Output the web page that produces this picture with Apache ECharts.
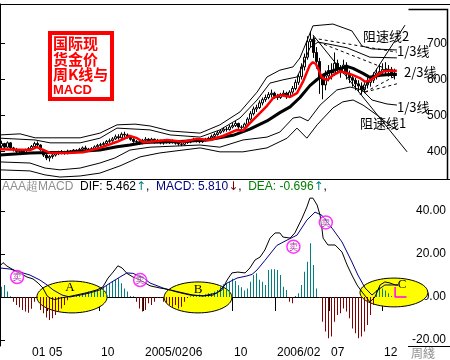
<!DOCTYPE html>
<html><head><meta charset="utf-8">
<script src="https://cdn.jsdelivr.net/npm/echarts@6/dist/echarts.min.js"></script>
<style>html,body{margin:0;padding:0;background:#fff}#c{width:450px;height:360px}</style>
</head><body><div id="c"></div>
<script>
// ---- weekly candles [open, close, low, high], one per week slot ----
const candles = [
[415,422,405,430],[422,412,408,424],[412,424,410,428],[424,410,406,426],[410,405,400,413],[405,400,396,410],[400,402,395,406],[402,396,393,405],[396,405,394,408],[405,408,402,412],
[408,414,405,418],[414,422,412,427],[422,418,413,428],[418,405,402,420],[405,390,385,407],[390,382,376,393],[382,386,372,390],[386,390,380,395],[390,394,386,398],[394,397,390,402],
[397,399,392,404],[399,395,391,402],[395,401,392,405],[401,397,394,404],[397,404,395,407],[404,399,396,406],[399,406,397,410],[406,410,404,414],[410,407,403,416],[407,404,400,410],
[404,408,400,412],[408,413,405,417],[413,417,410,421],[417,419,413,424],[419,422,416,427],[422,428,419,432],[428,430,424,436],[430,435,427,440],[435,441,432,447],[441,438,433,448],
[438,448,436,453],[448,446,440,455],[446,442,436,450],[442,434,430,445],[434,428,424,437],[428,427,420,432],[427,423,418,430],[423,431,420,435],[431,434,427,440],[434,428,424,437],
[428,434,425,438],[434,426,422,436],[426,431,423,435],[431,424,420,433],[424,425,419,429],[425,430,422,434],[430,425,421,432],[425,429,422,433],[429,423,419,431],[423,421,416,427],
[421,420,415,425],[420,425,417,428],[425,426,421,430],[426,429,423,434],[429,434,426,438],[434,429,425,437],[429,427,423,432],[427,432,424,436],[432,433,428,438],[433,437,430,441],
[437,442,434,447],[442,447,438,452],[447,452,444,457],[452,457,449,462],[457,462,453,467],[462,461,455,468],[461,468,458,474],[468,472,464,479],[472,478,468,485],[478,468,463,480],
[468,467,460,473],[467,476,464,480],[476,490,473,495],[490,505,486,512],[505,518,500,525],[518,522,510,530],[522,535,518,542],[535,544,528,550],[544,550,538,558],[550,558,545,565],
[558,562,550,572],[562,553,546,566],[553,550,543,560],[550,558,546,563],[558,562,552,570],[562,552,546,566],[552,565,548,570],[565,575,560,582],[575,592,570,600],[592,608,585,615],
[608,635,600,645],[635,662,625,672],[662,705,655,720],[705,712,690,733],[712,675,660,720],[675,650,630,690],[650,605,560,660],[605,585,545,615],[585,610,570,625],[610,625,595,640],
[625,618,600,645],[618,645,610,675],[645,628,615,655],[628,622,605,640],[622,640,615,655],[640,615,600,648],[615,605,590,625],[605,598,580,615],[598,588,570,605],[588,582,565,598],
[582,572,558,592],[572,585,562,595],[585,592,575,605],[592,598,580,610],[598,610,590,620],[610,618,600,630],[618,622,608,640],[622,628,610,645],[628,625,612,648],[625,628,608,640],
[628,618,605,635],[618,612,600,630]
];
// ---- price overlays [week slot, price] ----
const maRed = [[0,406],[10,404],[12.3,412],[16.7,396],[22.3,396],[27.7,398],[33.3,410],[39,427],[43.3,443],[45.7,437],[47.7,426],[50,427],[55.7,432],[61,427],[65.7,435],[70,432],[74.3,443],[79,460],[81,458],[83.3,479],[86.7,507],[89,527],[91,548],[93.3,557],[96.7,552],[99,562],[101,594],[103.3,640],[104.3,648],[105.3,643],[106.3,625],[107.3,605],[109,598],[111,612],[113.3,622],[115.7,618],[117.7,612],[120,604],[121.7,594],[123.3,597],[125.7,612],[127.7,622],[130,624],[132.3,624]];
const maBlack = [[0,390],[10,396],[16.7,397],[22.3,398],[33.3,404],[39,413],[43.3,418],[47.7,424],[50,426],[60,428],[69,432],[77.7,445],[83.3,462],[89,485],[93.3,508],[96.7,524],[100,550],[103.3,583],[105.7,600],[107.7,612],[110,622],[112.3,628],[115.7,636],[117.7,631],[121,617],[123.3,606],[126.7,612],[130,614],[132.3,614]];
const bandUpper2 = [[0,446],[6.7,449],[11.7,438],[26.7,438],[33.3,451],[39,474],[45,476],[50,471],[56.7,457],[66.7,451],[73.3,474],[80,510],[85.7,565],[89,607],[93.3,626],[97.7,635],[100,660],[102.3,707],[104.3,749],[111,754],[117.3,735],[120.7,693],[124,685],[132.3,682]];
const bandUpper1 = [[0,437],[11.7,432],[16.7,424],[26.7,424],[33.3,437],[39,465],[50,460],[56.7,446],[66.7,440],[73.3,460],[80,493],[85.7,543],[90,590],[94.3,599],[99,607],[101,640],[103.3,688],[106,704],[111,696],[115.7,688],[123.3,662],[132.3,660]];
const bandLower1 = [[0,371],[10,368],[15,354],[20,349],[26.7,354],[33.3,368],[38.3,382],[43.3,404],[50,412],[66.7,418],[73.3,412],[81,432],[89,440],[93.3,454],[97.7,493],[100,496],[102.7,485],[106.7,529],[112.3,571],[116.7,579],[120.7,571],[124,543],[129,532],[132.3,529]];
const bandLower2 = [[0,349],[10,346],[15,335],[20,329],[26.7,332],[33.3,340],[40,360],[46.7,385],[53.3,396],[66.7,410],[73.3,399],[81,399],[89,410],[95.7,437],[99,465],[102.3,437],[105.7,474],[111,521],[114.3,538],[117.7,543],[121,529],[125.7,501],[129,479],[132.3,460]];
// speed-resistance lines
const speedLine1 = [[104.3,724],[135.7,399]];
const speedLine2 = [[120,557],[135,751]];
const thirdLines = [
  [[104.3,715],[132.3,676]],
  [[104.3,710],[132.3,618]],
  [[121.7,565],[132.3,612]],
  [[121.7,565],[132.3,588]]
];
// ---- MACD panel ----
const macdHist = [4.8,5.6,2.5,0.3,
 -2.2,-3.7,-4.8,-6.0,-6.8,-7.3,-5.5,-2.2,-0.3,
 -6.0,-7.6,-9.5,-10.7,-9.9,-8.4,-6.8,-5.3,-3.7,-1.5,
 0.3,0.5,0.6,
 0.9,1.7,2.0,2.5,2.8,3.3,3.7,4.0,4.8,5.6,6.4,7.1,7.9,8.7,6.4,4.0,2.5,0.5,0.3,
 -2.2,-5.3,-6.8,-6.0,-2.9,-3.7,-2.2,-0.3,-0.5,-2.2,-2.9,-3.7,-4.5,-3.7,-5.3,-4.5,-2.2,-0.5,0.3,
 0.5,0.9,1.2,0.9,1.3,1.7,1.7,2.5,3.3,4.8,5.9,6.5,
 7.0,8.5,7.5,5.5,4.5,3.0,4.0,7.1,10.2,11.0,8.0,7.1,5.6,12.6,12.9,12.9,12.6,10.2,4.8,3.3,
 -2.2,-2.9,0.5,1.7,5.6,11.8,16.4,25,14.9,4.0,-0.5,
 -11.5,-16.1,-19.2,-18.4,-11.5,-8.4,-7.6,-5.3,-6.8,-9.9,-14.6,-16.9,-19.2,-18.4,-16.1,-13,-8.4,-3.7,
 3.3,4.8,4.0,3.0,1.7,0.5];
const dif = [[0,14.4],[1,16],[2.3,14.4],[4,13],[6.7,11],[9,9.3],[11,8.4],[12.7,6.5],[14.3,4.2],[15.7,0.5],[16.7,-0.5],[18.3,-1.2],[20,-0.5],[22.3,0],[25.7,1],[29,2],[32.3,3.3],[34.3,4.7],[36,8.8],[37.7,11.6],[39.3,14.5],[40.7,13.5],[42.3,11],[44.3,9.3],[46.7,7.9],[50,5.2],[53.3,4.2],[56.7,3.3],[61,1.9],[64.3,0.9],[67.7,0.5],[71,0.9],[74,3.3],[75.7,7.9],[77.3,11.2],[79.3,11.6],[81.7,11.2],[83.3,13.5],[85,17.2],[86.7,18.6],[88.3,21.9],[90,27.4],[91.7,29.8],[93.3,29.8],[94.3,27.9],[96.7,27.4],[98.3,29.8],[100.7,36.7],[102.3,41.9],[103.3,46],[104.3,46],[105.7,42.8],[106.7,38],[107.3,32],[107.7,27.4],[109.3,24.2],[111.7,24.2],[114,20.9],[115.7,14.9],[117.3,10.2],[119,5.6],[120.7,2.3],[122.3,-0.5],[123.3,-2.3],[125,0],[126.7,5.6],[128.3,7],[130,6.5],[131.7,5.6],[132.7,5.6]];
const dea = [[0,13.5],[3.3,13],[6.7,11.6],[10,10.2],[13.3,7.9],[15.7,5.6],[17.7,3.3],[20.7,0.9],[23.3,0],[26.7,0.9],[30,1.9],[33.3,3.3],[36.7,6.5],[40,9.3],[42.3,11.2],[44.3,11],[47.7,9],[50,6.5],[54.3,4.2],[59,2.3],[63.3,0.9],[67.7,0.5],[72.3,1.9],[75.7,6.5],[79,8.8],[82.3,9.8],[84,10.5],[85.7,12.6],[88.3,17],[90,20],[92.3,24],[95.7,26.5],[99,28.8],[102.3,35.8],[105,39.5],[107.3,38],[110.7,32],[114,25.6],[117.3,16.3],[119.3,10.2],[121.7,4.2],[124,0.9],[126,3.3],[128.3,5.6],[130.7,5.6],[132.7,5.6]];
const sellMarks = [[5.7,9.3],[46.7,7.9],[97.8,23.4],[108.6,34.7]];
const cBracket = [[131.7,4.6],[131.7,0],[135.5,0]];
// zones: [centre week, centre value, half-width weeks, half-height value]
const zoneNames = ['A','B','C'];
const zones = [[24,0,11.7,7.4],[66,-0.2,11.3,7.2],[131.3,2.1,11.3,6.7]];
const zoneLabelAt = [[23.3,4.2],[66,3.3],[134,6]];
// ---- axes ----
const tickPos = [15.67,33,47.67,62.33,77.33,91.67,109.67,127.33];
const tickText = ['05','10','2005/02','06','10','2006/02','07','12'];
const priceTicks = [400,500,600,700];
const macdTicks = [-20,0,20,40];

const chart = echarts.init(document.getElementById('c'));
const lineBase = {type:'line', showSymbol:false, symbol:'none', animation:false};
const thin = (data, extra) => Object.assign({}, lineBase, {xAxisIndex:0, yAxisIndex:0, data, lineStyle:{color:'#000', width:1}}, extra||{});
const series = [
  thin(bandUpper2), thin(bandUpper1), thin(bandLower1), thin(bandLower2),
  thin(speedLine1), thin(speedLine2),
  ...thirdLines.map(d => thin(d, {lineStyle:{color:'#000', width:1, type:[3,3]}})),
  {type:'candlestick', xAxisIndex:0, yAxisIndex:0, barWidth:2, animation:false,
   data: candles.map((c,i)=>[i+0.5].concat(c)), encode:{x:0, y:[1,2,3,4]},
   itemStyle:{color:'#ffffff', color0:'#000000', borderColor:'#000', borderColor0:'#000', borderWidth:1}},
  Object.assign({}, lineBase, {xAxisIndex:0, yAxisIndex:0, data:maBlack, lineStyle:{color:'#000', width:3}}),
  Object.assign({}, lineBase, {xAxisIndex:0, yAxisIndex:0, data:maRed, lineStyle:{color:'#ff0000', width:2.5}}),
  {type:'custom', xAxisIndex:1, yAxisIndex:1, z:1, clip:false, animation:false,
   data: zones.map((z,i)=>z.concat(zoneLabelAt[i])),
   renderItem:(params, api)=>{
     const c = api.coord([api.value(0), api.value(1)]);
     const s = api.size([api.value(2), api.value(3)]);
     const t = api.coord([api.value(4), api.value(5)]);
     return {type:'group', children:[
       {type:'ellipse', shape:{cx:c[0], cy:c[1], rx:s[0], ry:s[1]}, style:{fill:'#ffff00', stroke:'#000', lineWidth:1}},
       {type:'text', z2:50, style:{text:zoneNames[params.dataIndex], x:t[0], y:t[1], textAlign:'center', textVerticalAlign:'middle', fill:'#000', font:'13px "Liberation Serif"'}}
     ]};
   }},
  {type:'bar', xAxisIndex:1, yAxisIndex:1, barWidth:1, z:3, animation:false,
   data: macdHist.map((v,i)=>[i+0.5, v]),
   itemStyle:{color:(p)=> p.value[1] >= 0 ? '#008080' : '#800000'}},
  Object.assign({}, lineBase, {xAxisIndex:1, yAxisIndex:1, z:4, data:dea, lineStyle:{color:'#000080', width:1}}),
  Object.assign({}, lineBase, {xAxisIndex:1, yAxisIndex:1, z:5, data:dif, lineStyle:{color:'#000', width:1}}),
  Object.assign({}, lineBase, {xAxisIndex:1, yAxisIndex:1, z:6, data:cBracket, lineStyle:{color:'#ff00ff', width:1.5}}),
  {type:'scatter', xAxisIndex:1, yAxisIndex:1, z:7, animation:false, data:sellMarks, symbol:'circle', symbolSize:13,
   itemStyle:{color:'rgba(255,255,255,0.6)', borderColor:'#ff00ff', borderWidth:1.5},
   label:{show:true, position:'inside', formatter:'卖', color:'#990099', fontSize:9, fontFamily:'Noto Sans CJK SC'}}
];

const option = {
  animation:false,
  backgroundColor:'#fff',
  grid:[{left:0, width:408, top:4, height:175}, {left:0, width:408, top:179, height:167}],
  xAxis:[
    {type:'value', gridIndex:0, min:0, max:136, show:false},
    {type:'value', gridIndex:1, min:0, max:136, splitLine:{show:false},
     axisLine:{show:true, lineStyle:{color:'#000', width:1}},
     axisTick:{show:true, customValues:tickPos, length:14, lineStyle:{color:'#000'}},
     axisLabel:{show:true, customValues:tickPos, align:'left', margin:1, padding:[0,0,0,2],
       color:'#000', fontSize:12, fontFamily:'Liberation Sans',
       formatter:(v)=>{ const k = tickPos.findIndex(t=>Math.abs(t-v)<0.01); return k>=0 ? tickText[k] : ''; }}}
  ],
  yAxis:[
    {type:'value', gridIndex:0, position:'right', min:323.6, max:809.7, splitLine:{show:false},
     axisLine:{show:true, lineStyle:{color:'#000'}},
     axisTick:{show:true, customValues:priceTicks, length:5, lineStyle:{color:'#000'}},
     axisLabel:{customValues:priceTicks, align:'left', margin:19, color:'#000', fontSize:12, fontFamily:'Liberation Sans'}},
    {type:'value', gridIndex:1, position:'right', min:-22.8, max:54.9, splitLine:{show:false},
     axisLine:{show:true, lineStyle:{color:'#000'}},
     axisTick:{show:true, customValues:macdTicks, length:5, lineStyle:{color:'#000'}},
     axisLabel:{customValues:macdTicks, align:'right', margin:38, color:'#000', fontSize:12, fontFamily:'Liberation Sans',
       formatter:(v)=>v.toFixed(2)}}
  ],
  series,
  graphic:[
    {type:'line', shape:{x1:0,y1:4.5,x2:450,y2:4.5}, style:{stroke:'#000', lineWidth:1}, z:100},
    {type:'line', shape:{x1:0,y1:179.5,x2:450,y2:179.5}, style:{stroke:'#000', lineWidth:1}, z:100},
    {type:'line', shape:{x1:408,y1:346.5,x2:450,y2:346.5}, style:{stroke:'#000', lineWidth:1}, z:100},
    {type:'polyline', shape:{points:[[408.5,9.5],[447.5,9.5],[447.5,180]]}, style:{stroke:'#000', lineWidth:1.5, fill:null}, z:100},
    {type:'rect', shape:{x:50,y:33,width:62,height:66}, style:{fill:'#fff', stroke:'#ff0000', lineWidth:4}, z:100},
    {type:'text', x:53, y:36, z:101, style:{text:'国际现\n货金价\n周K线与\n{m|MACD}', fill:'#ff0000',
      font:'bold 15px "Noto Sans CJK SC"', lineHeight:15.5,
      rich:{m:{fill:'#ff0000', font:'bold 13px "Liberation Sans"', lineHeight:15.5}}}},
    {type:'text', x:363, y:30, z:101, style:{text:'阻速线2', fill:'#000', font:'13px "Noto Sans CJK SC"'}},
    {type:'text', x:397, y:45, z:101, style:{text:'1/3线', fill:'#000', font:'13px "Noto Sans CJK SC"'}},
    {type:'text', x:404, y:66, z:101, style:{text:'2/3线', fill:'#000', font:'13px "Noto Sans CJK SC"'}},
    {type:'text', x:397, y:101, z:101, style:{text:'1/3线', fill:'#000', font:'13px "Noto Sans CJK SC"'}},
    {type:'text', x:360, y:117, z:101, style:{text:'阻速线1', fill:'#000', font:'13px "Noto Sans CJK SC"'}},
    {type:'text', x:2, y:181, z:101, style:{
      text:'{g|AAA超MACD}  {k|DIF: 5.462}{t|↑}{k|,}  {n|MACD: 5.810}{r|↓}{k|,}  {e|DEA: -0.696}{t|↑}{k|,}',
      font:'12px "Liberation Sans"',
      rich:{g:{fill:'#909090', font:'12px "Liberation Sans"'}, k:{fill:'#000', font:'12px "Liberation Sans"'},
            t:{fill:'#008080', font:'12px "DejaVu Sans"'}, n:{fill:'#000080', font:'12px "Liberation Sans"'},
            r:{fill:'#800000', font:'12px "DejaVu Sans"'}, e:{fill:'#008000', font:'12px "Liberation Sans"'}}}},
    {type:'text', x:32, y:347, z:101, style:{text:'01', fill:'#000', font:'12px "Liberation Sans"'}},
    {type:'text', x:411, y:347, z:101, style:{text:'周綫', fill:'#909090', font:'12px "Noto Sans CJK SC"'}}
  ]
};
chart.setOption(option);
</script></body></html>
